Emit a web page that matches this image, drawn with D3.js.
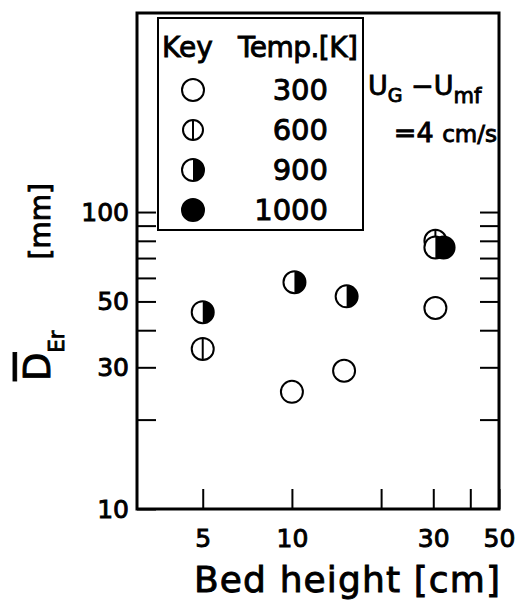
<!DOCTYPE html>
<html>
<head>
<meta charset="utf-8">
<script src="https://cdn.jsdelivr.net/npm/d3@7"></script>
<style>
  body { margin: 0; background: #fff; }
  svg text { font-family: "DejaVu Sans", sans-serif; fill: #000; stroke: #000; stroke-width: 0.9px; }
</style>
</head>
<body>
<div id="chart"></div>
<script>
// bed height [cm] and mean effective bubble diameter [mm] per temperature
const temps = [300, 600, 900, 1000];
const bed300 = [10, 15, 30.5];
const der300 = [24.8, 29.2, 47.5];
const bed600 = [5, 30.5];
const der600 = [34.6, 80];
const bed900 = [5, 10.2, 15.3, 30.5];
const der900 = [46, 58, 52, 76];
const bed1000 = [32.5];
const der1000 = [76];

const xTicks = [5, 10, 20, 30, 40, 50];
const xLabels = [5, 10, 30, 50];
const yTicks = [10, 20, 30, 40, 50, 60, 70, 80, 90, 100];
const yLabels = [10, 30, 50, 100];

const W = 524, H = 606;
const svg = d3.select('#chart').append('svg')
  .attr('width', W).attr('height', H);

const x = d3.scaleLog().domain([3, 50]).range([137, 499]);
const y = d3.scaleLog().domain([10, 468]).range([509, 13]);

// axes, ticks pointing inward
const xAxis = d3.axisBottom(x).tickValues(xTicks)
  .tickSizeInner(-20).tickSizeOuter(0).tickPadding(20)
  .tickFormat(d => xLabels.includes(d) ? d : '');
const gx = svg.append('g').attr('transform', `translate(0,${y(10)})`).call(xAxis);

const yAxis = d3.axisLeft(y).tickValues(yTicks)
  .tickSizeInner(-19).tickSizeOuter(0).tickPadding(8)
  .tickFormat(d => yLabels.includes(d) ? d : '');
const gy = svg.append('g').attr('transform', `translate(${x(3)},0)`).call(yAxis);

const yAxisR = d3.axisRight(y).tickValues(yTicks.slice(1))
  .tickSizeInner(-19).tickSizeOuter(0).tickFormat('');
const gr = svg.append('g').attr('transform', `translate(${x(50)},0)`).call(yAxisR);

[gx, gy, gr].forEach(g => {
  g.select('.domain').remove();
  g.selectAll('.tick line').attr('stroke', '#000').attr('stroke-width', 2);
});
gx.selectAll('.tick text').style('font-size', '25px');
gy.selectAll('.tick text').style('font-size', '25px');

// frame
svg.append('rect')
  .attr('x', x(3)).attr('y', y.range()[1])
  .attr('width', x(50) - x(3)).attr('height', y(10) - y.range()[1])
  .attr('fill', 'none').attr('stroke', '#000').attr('stroke-width', 3);

// markers
const r = 11;

function marker(g, t, rad) {
  const arc = d3.arc().innerRadius(0).outerRadius(rad).startAngle(0).endAngle(Math.PI);
  g.append('circle').attr('r', rad)
    .attr('fill', t === 1000 ? '#000' : '#fff')
    .attr('stroke', '#000').attr('stroke-width', 2);
  if (t === 600) {
    g.append('line').attr('y1', -rad).attr('y2', rad)
      .attr('stroke', '#000').attr('stroke-width', 2);
  }
  if (t === 900) {
    g.append('path').attr('d', arc()).attr('fill', '#000');
  }
}

const series = [
  {t: 300, bed: bed300, der: der300},
  {t: 600, bed: bed600, der: der600},
  {t: 1000, bed: bed1000, der: der1000},
  {t: 900, bed: bed900, der: der900}
];
series.forEach(s => {
  s.bed.forEach((b, i) => {
    const g = svg.append('g').attr('transform', `translate(${x(b)},${y(s.der[i])})`);
    marker(g, s.t, r);
  });
});

// legend box
const lg = svg.append('g');
lg.append('rect').attr('x', 158).attr('y', 18).attr('width', 205).attr('height', 212)
  .attr('fill', '#fff').attr('stroke', '#000').attr('stroke-width', 2);
lg.append('text').attr('x', 162).attr('y', 57).style('font-size', '28px').text('Key');
lg.append('text').attr('x', 238).attr('y', 57).style('font-size', '28px')
  .attr('textLength', 120).text('Temp.[K]');
temps.forEach((t, i) => {
  const cy = 90 + i * 40;
  const g = lg.append('g').attr('transform', `translate(193,${cy})`);
  marker(g, t, t === 600 ? 10 : 11);
  lg.append('text').attr('x', 328).attr('y', cy + 10).attr('text-anchor', 'end')
    .style('font-size', '29px').text(t);
});

// condition note
const note = svg.append('text').attr('x', 368).attr('y', 95).style('font-size', '27px');
note.append('tspan').text('U');
note.append('tspan').attr('dy', 7).style('font-size', '19px').text('G');
note.append('tspan').attr('dy', -7).text(' \u2212U');
note.append('tspan').attr('dy', 8).style('font-size', '21px').text('mf');
const note2 = svg.append('text').attr('x', 497).attr('y', 142)
  .attr('text-anchor', 'end').style('font-size', '27px');
note2.append('tspan').text('=4 ');
note2.append('tspan').style('font-size', '23px').text('cm/s');

// axis titles
svg.append('text').attr('x', 500).attr('y', 592).attr('text-anchor', 'end')
  .style('font-size', '36px').attr('textLength', 306).text('Bed height [cm]');

const yt = svg.append('text')
  .attr('transform', 'translate(50,381) rotate(-90)')
  .style('font-size', '37px');
yt.append('tspan').style('text-decoration', 'overline').text('D');
yt.append('tspan').attr('dy', 14).style('font-size', '21px').text('Er');
svg.append('text')
  .attr('transform', 'translate(50,183) rotate(-90)')
  .attr('text-anchor', 'end').style('font-size', '28px').text('[mm]');
</script>
</body>
</html>
